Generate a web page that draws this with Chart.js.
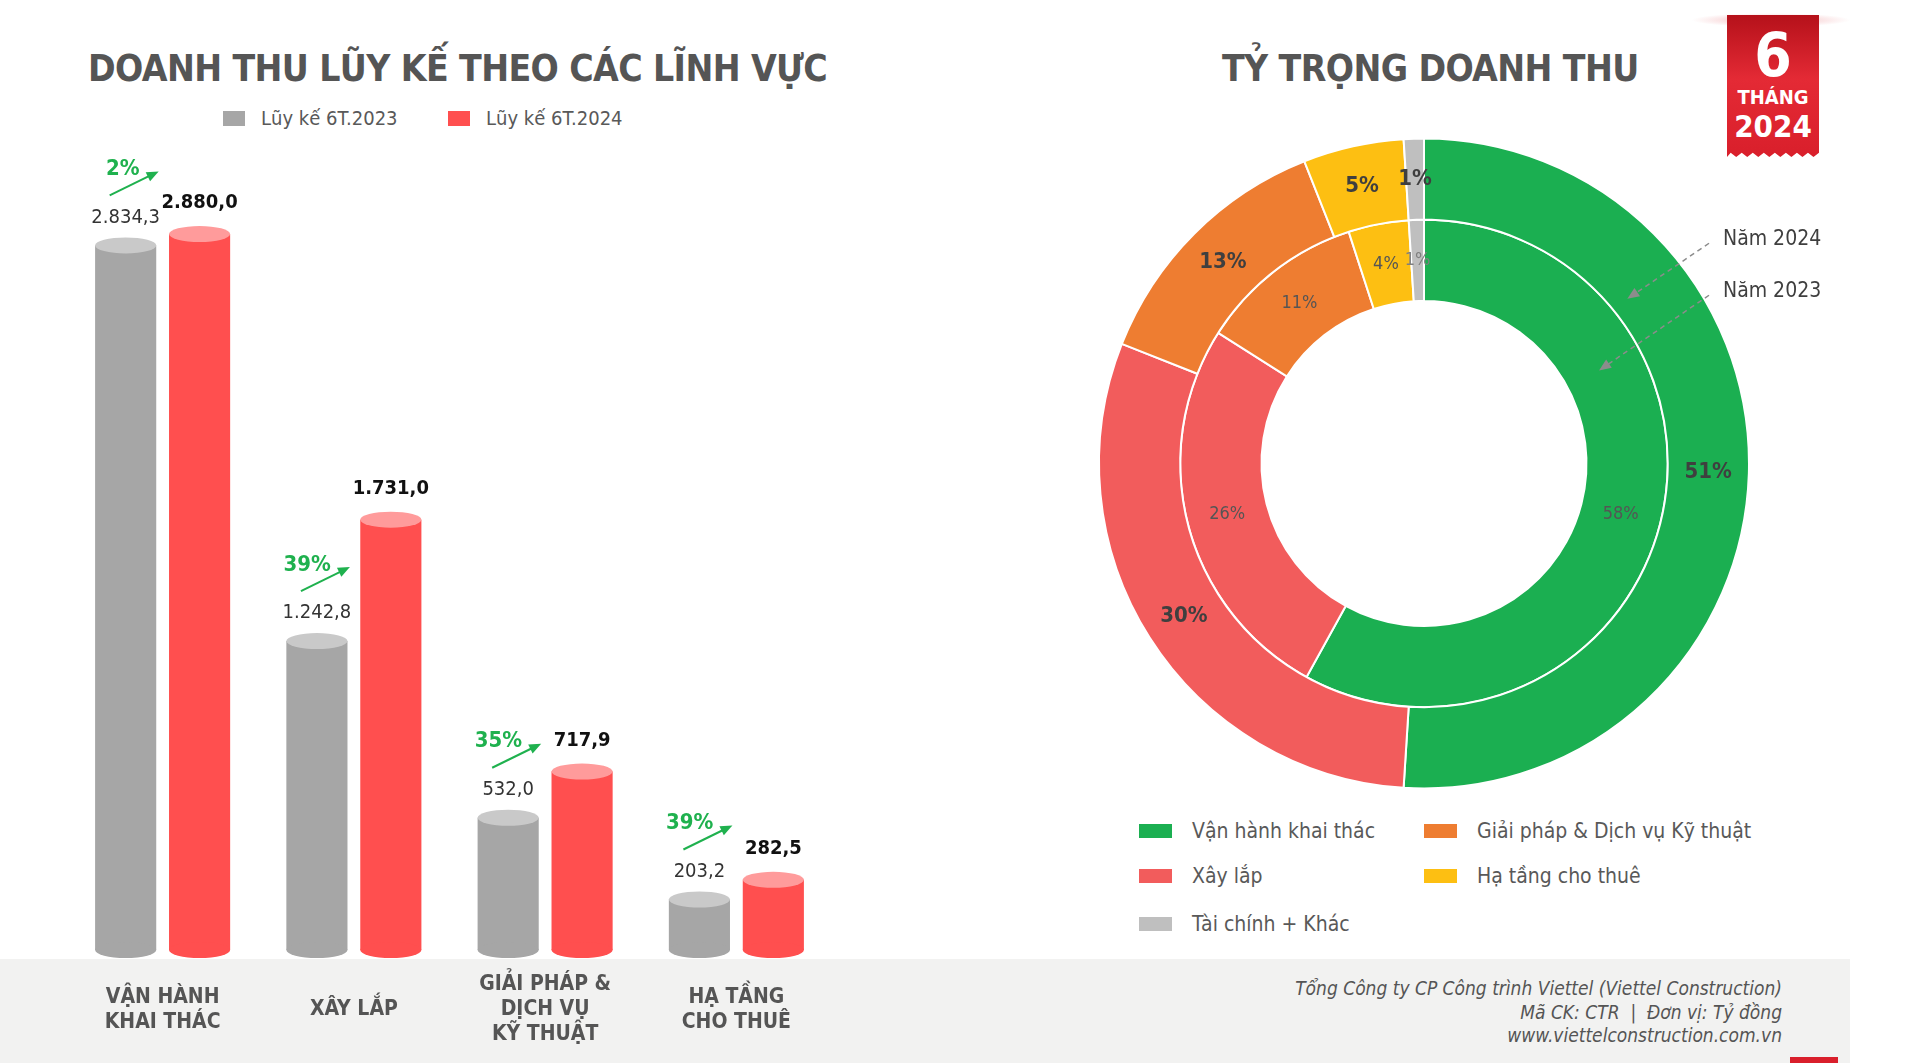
<!DOCTYPE html>
<html lang="vi">
<head>
<meta charset="utf-8">
<title>Doanh thu 6 tháng 2024</title>
<script src="https://cdn.jsdelivr.net/npm/chart.js@4.4.1/dist/chart.umd.min.js"></script>
<style>
  body {
    margin: 0;
    width: 1920px;
    height: 1063px;
    background: #fff;
    position: relative;
    overflow: hidden;
    font-family: "Liberation Sans Narrow", "DejaVu Sans Condensed", Roboto, sans-serif;
    color: #595959;
  }
  .title {
    position: absolute;
    top: 45px;
    font-weight: bold;
    font-size: 37px;
    letter-spacing: -0.6px;
    color: #555;
    white-space: nowrap;
    line-height: 48px;
  }
  #footer {
    position: absolute;
    left: 0;
    top: 959px;
    width: 1850px;
    height: 104px;
    background: #f2f2f1;
  }
  #footer-text {
    position: absolute;
    right: 138px;
    top: 977px;
    text-align: right;
    font-style: italic;
    font-size: 19px;
    line-height: 23.5px;
    color: #555;
  }
  .legend-item {
    position: absolute;
    white-space: nowrap;
    font-size: 21px;
    color: #595959;
    display: flex;
    align-items: center;
  }
  .legend-item span.box {
    display: inline-block;
    margin-right: 20px;
  }
  canvas { position: absolute; }
  #badge {
    position: absolute;
    left: 1727px;
    top: 15px;
    width: 92px;
    height: 142px;
    background: linear-gradient(#b5111a 0%, #e42a35 45%, #d91f2b 100%);
    color: #fff;
    text-align: center;
    font-weight: bold;
    clip-path: polygon(0 0, 100% 0, 100% 97%, 94% 100%, 88% 97%, 82% 100%, 76% 97%, 70% 100%, 64% 97%, 58% 100%, 52% 97%, 46% 100%, 40% 97%, 34% 100%, 28% 97%, 22% 100%, 16% 97%, 10% 100%, 4% 97%, 0 100%);
  }
  #glow {
    position: absolute;
    left: 1691px;
    top: 13px;
    width: 160px;
    height: 14px;
    background: radial-gradient(ellipse at center, rgba(220,40,50,0.35), rgba(255,255,255,0) 70%);
  }
  #badge .big { font-size: 60px; line-height: 60px; margin-top: 10px; }
  #badge .mid { font-size: 20px; line-height: 24px; }
  #badge .yr { font-size: 31px; line-height: 34px; }
  #corner {
    position: absolute;
    left: 1790px;
    top: 1057px;
    width: 48px;
    height: 6px;
    background: #d91f2b;
  }
</style>
</head>
<body>
<div id="footer"></div>
<div id="corner"></div>
<div class="title" style="left:88px">DOANH THU LŨY KẾ THEO CÁC LĨNH VỰC</div>
<div class="title" style="left:1222px">TỶ TRỌNG DOANH THU</div>
<div id="glow"></div>
<div id="badge"><div class="big">6</div><div class="mid">THÁNG</div><div class="yr">2024</div></div>
<div id="bar-legend"></div>
<div id="pie-legend"></div>
<div id="footer-text">Tổng Công ty CP Công trình Viettel (Viettel Construction)<br>Mã CK: CTR &nbsp;|&nbsp; Đơn vị: Tỷ đồng<br>www.viettelconstruction.com.vn</div>

<canvas id="bars" width="765" height="913" style="left:67px; top:150px"></canvas>
<canvas id="pie" width="860" height="653" style="left:1040px; top:137px"></canvas>

<script>
// ---- Dữ liệu cột (tỷ đồng) ----
const categories = [
  ["VẬN HÀNH", "KHAI THÁC"],
  ["XÂY LẮP"],
  ["GIẢI PHÁP &", "DỊCH VỤ", "KỸ THUẬT"],
  ["HẠ TẦNG", "CHO THUÊ"]
];
const seriesNames = ["Lũy kế 6T.2023", "Lũy kế 6T.2024"];
const values2023 = [2834.3, 1242.8, 532.0, 203.2];
const values2024 = [2880.0, 1731.0, 717.9, 282.5];
const growth = [2, 39, 35, 39];

// ---- Dữ liệu tỷ trọng (%) ----
const sectors = ["Vận hành khai thác", "Xây lắp", "Giải pháp & Dịch vụ Kỹ thuật", "Hạ tầng cho thuê", "Tài chính + Khác"];
const share2024 = [51, 30, 13, 5, 1];
const share2023 = [58, 26, 11, 4, 1];
const ringNames = ["Năm 2024", "Năm 2023"];

// màu
const barColors = ["#a6a6a6", "#ff4f4f"];
const barTopColors = ["#c9c9c9", "#ff9b9b"];
const sectorColors = ["#1baf51", "#f25c5c", "#ee7d31", "#fdbf12", "#bfbfbf"];
const green = "#1fb14e";
const numFont = "'DejaVu Sans Condensed', 'Liberation Sans Narrow', sans-serif";
const labelFont = "'Liberation Sans Narrow', 'DejaVu Sans Condensed', sans-serif";

// định dạng số kiểu Việt Nam: 2.834,3
function fmt(v) {
  const [i, d] = v.toFixed(1).split(".");
  return i.replace(/\B(?=(\d{3})+(?!\d))/g, ".") + "," + d;
}

// ---- legend HTML ----
const barLegend = document.getElementById("bar-legend");
[223, 448].forEach((left, k) => {
  const el = document.createElement("div");
  el.className = "legend-item";
  el.style.left = left + "px";
  el.style.top = "106px";
  el.style.fontSize = "20px";
  el.innerHTML = `<span class="box" style="width:22px;height:15px;background:${barColors[k]};margin-right:16px"></span>${seriesNames[k]}`;
  barLegend.appendChild(el);
});

const pieLegend = document.getElementById("pie-legend");
const legendPos = [[1139, 819], [1139, 864], [1424, 819], [1424, 864], [1139, 912]];
sectors.forEach((name, k) => {
  const el = document.createElement("div");
  el.className = "legend-item";
  el.style.left = legendPos[k][0] + "px";
  el.style.top = legendPos[k][1] + "px";
  el.innerHTML = `<span class="box" style="width:33px;height:14px;background:${sectorColors[k]}"></span>${name}`;
  pieLegend.appendChild(el);
});

// ---- plugin vẽ hình trụ + nhãn ----
const cylinders = {
  id: "cylinders",
  afterDatasetsDraw(chart) {
    const ctx = chart.ctx;
    const ry = 8;
    const pos = [];
    chart.data.datasets.forEach((ds, di) => {
      chart.getDatasetMeta(di).data.forEach((bar, i) => {
        const { x, y, base, width } = bar.getProps(["x", "y", "base", "width"], true);
        const rx = width / 2;
        ctx.save();
        ctx.fillStyle = barColors[di];
        ctx.beginPath();
        ctx.ellipse(x, base, rx, ry, 0, 0, Math.PI * 2);
        ctx.fill();
        ctx.fillStyle = barTopColors[di];
        ctx.beginPath();
        ctx.ellipse(x, y, rx, ry, 0, 0, Math.PI * 2);
        ctx.fill();

        // nhãn giá trị
        ctx.textAlign = "center";
        ctx.textBaseline = "middle";
        if (di === 0) {
          ctx.font = "20px " + numFont;
          ctx.fillStyle = "#333";
          ctx.fillText(fmt(ds.data[i]), x, y - ry - 20);
        } else {
          ctx.font = "bold 20px " + numFont;
          ctx.fillStyle = "#111";
          ctx.fillText(fmt(ds.data[i]), x, y - ry - 23);
        }
        ctx.restore();
        pos[i] = pos[i] || {};
        pos[i][di] = { x, y };
      });
    });

    // tăng trưởng
    pos.forEach((p, i) => {
      const grayLabelY = p[0].y - ry - 20;
      const pctY = grayLabelY - 48;
      const right = p[0].x + 14;
      ctx.save();
      ctx.font = "bold 22px " + numFont;
      ctx.fillStyle = green;
      ctx.textAlign = "right";
      ctx.textBaseline = "middle";
      ctx.fillText(growth[i] + "%", right, pctY);

      const x0 = right - 30, y0 = pctY + 26;
      const x1 = right + 19, y1 = pctY + 2;
      const ang = Math.atan2(y1 - y0, x1 - x0);
      ctx.strokeStyle = green;
      ctx.lineWidth = 2;
      ctx.beginPath();
      ctx.moveTo(x0, y0);
      ctx.lineTo(x1 - 8 * Math.cos(ang), y1 - 8 * Math.sin(ang));
      ctx.stroke();
      ctx.beginPath();
      ctx.moveTo(x1, y1);
      ctx.lineTo(x1 - 12 * Math.cos(ang) + 5 * Math.sin(ang), y1 - 12 * Math.sin(ang) - 5 * Math.cos(ang));
      ctx.lineTo(x1 - 12 * Math.cos(ang) - 5 * Math.sin(ang), y1 - 12 * Math.sin(ang) + 5 * Math.cos(ang));
      ctx.closePath();
      ctx.fillStyle = green;
      ctx.fill();
      ctx.restore();
    });

    // nhãn danh mục, căn giữa theo chiều dọc
    const xs = chart.scales.x;
    const midY = chart.chartArea.bottom + 60;
    const lh = 25;
    ctx.save();
    ctx.font = "bold 21px " + labelFont;
    ctx.fillStyle = "#555";
    ctx.textAlign = "center";
    ctx.textBaseline = "middle";
    categories.forEach((lines, i) => {
      const x = xs.getPixelForValue(i);
      const top = midY - (lines.length - 1) * lh / 2;
      lines.forEach((t, j) => ctx.fillText(t, x, top + j * lh));
    });
    ctx.restore();
  }
};

new Chart(document.getElementById("bars"), {
  type: "bar",
  data: {
    labels: categories.map(c => c.join(" ")),
    datasets: [
      { label: seriesNames[0], data: values2023, backgroundColor: barColors[0] },
      { label: seriesNames[1], data: values2024, backgroundColor: barColors[1] }
    ]
  },
  options: {
    responsive: false,
    animation: false,
    categoryPercentage: 0.773,
    barPercentage: 0.827,
    layout: { padding: { top: 0, bottom: 113, left: 0, right: 0 } },
    plugins: { legend: { display: false }, tooltip: { enabled: false } },
    scales: {
      x: { display: false },
      y: { display: false, min: 0, max: 3218 }
    }
  },
  plugins: [cylinders]
});

// ---- plugin nhãn % và chú thích vòng ----
const ringLabels = {
  id: "ringLabels",
  afterDatasetsDraw(chart) {
    const ctx = chart.ctx;
    chart.data.datasets.forEach((ds, di) => {
      chart.getDatasetMeta(di).data.forEach((arc, i) => {
        const p = arc.getCenterPoint();
        ctx.save();
        ctx.textAlign = "center";
        ctx.textBaseline = "middle";
        if (di === 0) {
          ctx.font = "bold 22px " + numFont;
          ctx.fillStyle = "#3f3f3f";
        } else {
          ctx.font = "18px " + numFont;
          ctx.fillStyle = i === 4 ? "#7f7f7f" : "#555";
        }
        ctx.fillText(ds.data[i] + "%", p.x, p.y);
        ctx.restore();
      });
    });

    // chú thích Năm 2024 / Năm 2023
    const a0 = chart.getDatasetMeta(0).data[0];
    const a1 = chart.getDatasetMeta(1).data[0];
    const cx = a0.x, cy = a0.y, R = a0.outerRadius;
    const targets = [
      { arc: a0, deg: 51, frac: 0.22, tx: cx + R * 0.92, ty: cy - R * 0.69 },
      { arc: a1, deg: 62, frac: 0.44, tx: cx + R * 0.92, ty: cy - R * 0.53 }
    ];
    targets.forEach((t, k) => {
      const r = t.arc.innerRadius + t.frac * (t.arc.outerRadius - t.arc.innerRadius);
      const rad = t.deg * Math.PI / 180;
      const ex = cx + r * Math.sin(rad), ey = cy - r * Math.cos(rad);
      const sx = t.tx - 14, sy = t.ty + 4;
      const ang = Math.atan2(ey - sy, ex - sx);
      ctx.save();
      ctx.strokeStyle = "#8c8c8c";
      ctx.lineWidth = 1.5;
      ctx.setLineDash([5, 4]);
      ctx.beginPath();
      ctx.moveTo(sx, sy);
      ctx.lineTo(ex - 8 * Math.cos(ang), ey - 8 * Math.sin(ang));
      ctx.stroke();
      ctx.setLineDash([]);
      ctx.fillStyle = "#8c8c8c";
      ctx.beginPath();
      ctx.moveTo(ex, ey);
      ctx.lineTo(ex - 12 * Math.cos(ang) + 5 * Math.sin(ang), ey - 12 * Math.sin(ang) - 5 * Math.cos(ang));
      ctx.lineTo(ex - 12 * Math.cos(ang) - 5 * Math.sin(ang), ey - 12 * Math.sin(ang) + 5 * Math.cos(ang));
      ctx.closePath();
      ctx.fill();

      ctx.font = "21px " + labelFont;
      ctx.fillStyle = "#3f3f3f";
      ctx.textAlign = "left";
      ctx.textBaseline = "middle";
      ctx.fillText(ringNames[k], t.tx, t.ty);
      ctx.restore();
    });
  }
};

new Chart(document.getElementById("pie"), {
  type: "doughnut",
  data: {
    labels: sectors,
    datasets: [
      { label: ringNames[0], data: share2024, backgroundColor: sectorColors, borderColor: "#fff", borderWidth: 2 },
      { label: ringNames[1], data: share2023, backgroundColor: sectorColors, borderColor: "#fff", borderWidth: 2 }
    ]
  },
  options: {
    responsive: false,
    animation: false,
    cutout: "50%",
    hoverOffset: 0,
    layout: { padding: { left: 58, right: 150, top: 0, bottom: 0 } },
    plugins: { legend: { display: false }, tooltip: { enabled: false } }
  },
  plugins: [ringLabels]
});
</script>
</body>
</html>
